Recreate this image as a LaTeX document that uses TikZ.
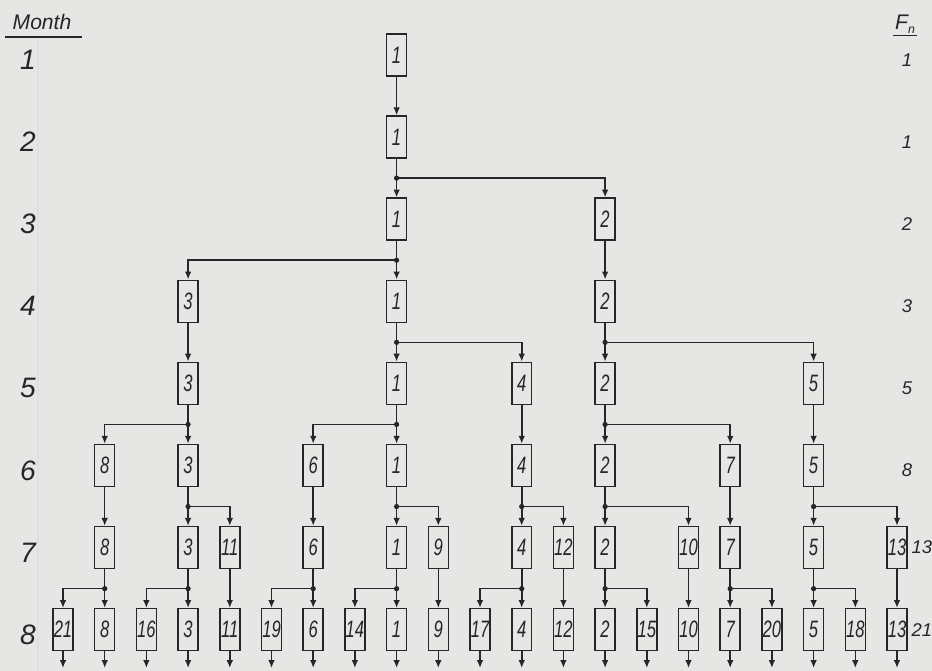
\documentclass[tikz,border=0pt]{standalone}
\usepackage{fontspec}
\setmainfont{Liberation Sans}
\usepackage{graphicx}
\usetikzlibrary{arrows.meta, positioning}

\definecolor{paper}{RGB}{230,230,228}
\definecolor{ink}{RGB}{38,38,38}
\newcommand{\pairno}[1]{\scalebox{0.7}[1]{#1}}

\begin{document}
\begin{tikzpicture}[
  x=0.02cm, y=-0.02cm,
  every node/.style={text=ink, font=\itshape},
  pairbox/.style ={rectangle, draw=ink, line width=0.9pt, fill=paper, minimum width=0.4cm, minimum height=0.84cm, inner sep=0pt, font=\fontsize{13.5}{13.5}\selectfont\itshape},
  monthlbl/.style={font=\fontsize{16}{16}\selectfont\itshape},
  fnlbl/.style   ={font=\fontsize{10.5}{10.5}\selectfont\itshape, inner sep=1pt},
  head/.style    ={font=\fontsize{12}{12}\selectfont\itshape, inner sep=1pt},
  link/.style    ={draw=ink, line width=0.9pt, -{Latex[length=4.5pt,width=3.8pt]}},
  knot/.style    ={fill=ink},
  faint/.style   ={draw=black!12, line width=0.8pt}
]
\fill[paper] (0,0) rectangle (932,671);
\useasboundingbox (0,0) rectangle (932,671);

% month axis
\draw[faint] (38,40) -- (38,671);
\node[head] (mhead) at (42,22) {Month};
\draw[ink, line width=0.8pt] (5,37) -- (82,37);
\foreach \r in {1,...,8}
  \node[monthlbl] (mon\r) at (28,{60+82.1*(\r-1)}) {\r};

% Fibonacci column
\node[head] (fhead) at (905,24) {F\raisebox{-2pt}{\scriptsize n}};
\draw[ink, line width=0.6pt] (fhead.south west) -- (fhead.south east);

% pairs, row/column/number
\foreach \r/\c/\t in {
  1/8/1,
  2/8/1,
  3/8/1, 3/13/2,
  4/3/3, 4/8/1, 4/13/2,
  5/3/3, 5/8/1, 5/11/4, 5/13/2, 5/18/5,
  6/1/8, 6/3/3, 6/6/6, 6/8/1, 6/11/4, 6/13/2, 6/16/7, 6/18/5,
  7/1/8, 7/3/3, 7/4/11, 7/6/6, 7/8/1, 7/9/9, 7/11/4, 7/12/12, 7/13/2, 7/15/10, 7/16/7, 7/18/5, 7/20/13,
  8/0/21, 8/1/8, 8/2/16, 8/3/3, 8/4/11, 8/5/19, 8/6/6, 8/7/14, 8/8/1, 8/9/9, 8/10/17,
  8/11/4, 8/12/12, 8/13/2, 8/14/15, 8/15/10, 8/16/7, 8/17/20, 8/18/5, 8/19/18, 8/20/13}
  \node[pairbox] (r\r c\c) at ({63+41.7*\c},{55+82.1*(\r-1)}) {\pairno{\t}};

\foreach \r/\v in {1/1, 2/1, 3/2, 4/3, 5/5, 6/8}
  \node[fnlbl] (fn\r) at (907,{60+82.1*(\r-1)}) {\v};
\node[fnlbl, right=1pt of r7c20] (fn7) {13};
\node[fnlbl, right=1pt of r8c20] (fn8) {21};

% each pair lives on into the next month
\foreach \r/\c in {1/8, 2/8, 3/8, 3/13, 4/3, 4/8, 4/13,
  5/3, 5/8, 5/11, 5/13, 5/18,
  6/1, 6/3, 6/6, 6/8, 6/11, 6/13, 6/16, 6/18,
  7/1, 7/3, 7/4, 7/6, 7/8, 7/9, 7/11, 7/12, 7/13, 7/15, 7/16, 7/18, 7/20}{
  \pgfmathtruncatemacro\s{\r+1}
  \draw[link] (r\r c\c) -- coordinate[midway] (j\r c\c) (r\s c\c);
}

% newborn pairs
\foreach \r/\c/\d in {2/8/13, 3/8/3, 4/8/11, 4/13/18,
  5/3/1, 5/8/6, 5/13/16,
  6/3/4, 6/8/9, 6/11/12, 6/13/15, 6/18/20,
  7/1/0, 7/3/2, 7/6/5, 7/8/7, 7/11/10, 7/13/14, 7/16/17, 7/18/19}{
  \pgfmathtruncatemacro\s{\r+1}
  \draw[link] (j\r c\c) -| (r\s c\d);
  \fill[knot] (j\r c\c) circle[radius=1.5pt];
}

\foreach \c in {0,...,20}{
  \coordinate (e\c) at ({63+41.7*\c},668);
  \draw[link] (r8c\c) -- (e\c);
}

\end{tikzpicture}
\end{document}
